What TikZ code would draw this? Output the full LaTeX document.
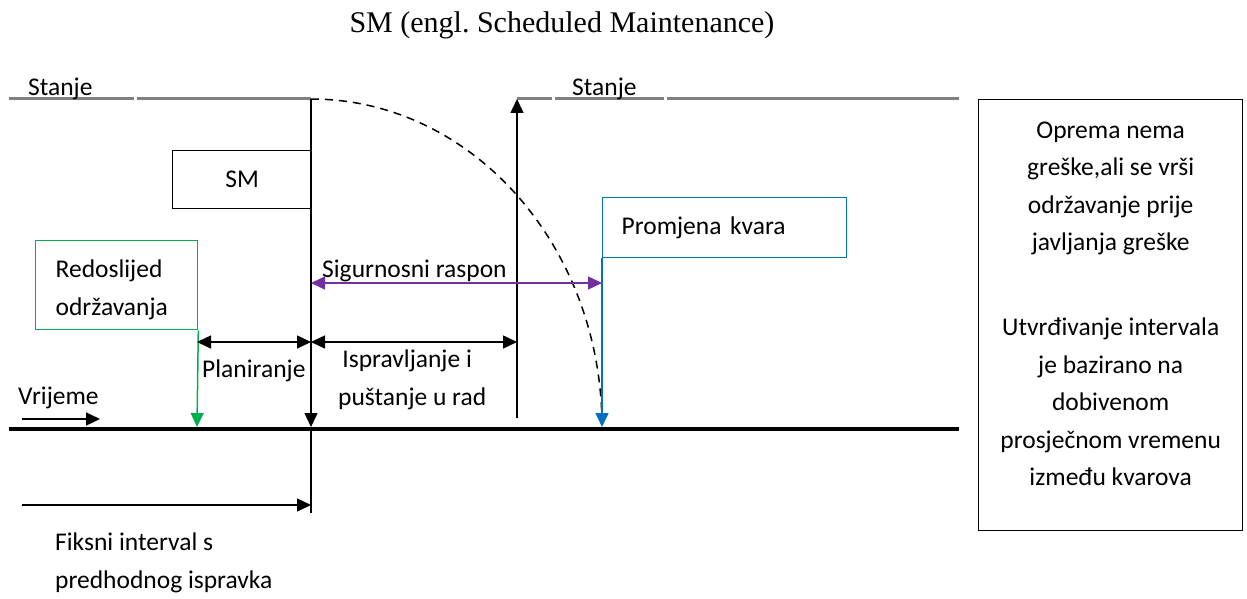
\documentclass[tikz,border=0pt]{standalone}
\usepackage{fontspec}
\setmainfont{Carlito}
\newfontfamily\titlefont{Liberation Serif}
\usetikzlibrary{arrows.meta,positioning}
\definecolor{kvarBlue}{RGB}{0,112,192}
\definecolor{orderGreen}{RGB}{0,176,80}
\definecolor{spanPurple}{RGB}{112,48,160}
\definecolor{stanjeGray}{RGB}{128,128,128}
\tikzstyle{txt} = [anchor=base west, inner sep=0pt, font=\fontsize{25.5}{38}\selectfont]
\tikzstyle{block} = [draw, rectangle, anchor=north west, line width=1.3pt, inner sep=0pt, font=\fontsize{25.5}{38}\selectfont]
\tikzstyle{thinLine} = [line width=1.5pt]
\tikzstyle{flowArrow} = [line width=1.5pt, -{Triangle[length=14pt,width=13pt]}]
\tikzstyle{spanArrow} = [line width=1.5pt, {Triangle[length=14pt,width=13pt]}-{Triangle[length=14pt,width=13pt]}]
\tikzstyle{stanjeLine} = [stanjeGray, line width=3pt]
\frenchspacing

\begin{document}
\begin{tikzpicture}[x=1pt, y=-1pt]
		\useasboundingbox (0,0) rectangle (1247,599);
		%title
		\node[anchor=base, inner sep=0pt, font=\titlefont\fontsize{30}{36}\selectfont](title) at (562,33){SM (engl. Scheduled Maintenance)};

		%points
		\coordinate (smTop) at (311,99);
		\coordinate (smAxis) at (311,427);
		\coordinate (smBottom) at (311,513);
		\coordinate (repTop) at (517,99);
		\coordinate (repBottom) at (517,418);
		\coordinate (greenTip) at (197,427);
		\coordinate (blueTip) at (602,427);
		\coordinate (axisL) at (9,429);
		\coordinate (axisR) at (959,429);
		\coordinate (planL) at (197,342);
		\coordinate (planR) at (311,342);
		\coordinate (ispR) at (517,342);
		\coordinate (spanL) at (311,283);
		\coordinate (spanR) at (602,283);
		\coordinate (timeL) at (22,419);
		\coordinate (timeR) at (100,419);
		\coordinate (fixL) at (22,505);
		\coordinate (fixR) at (311,505);

		%stanje lines
		\draw[stanjeLine] (9,99) -- (134,99);
		\draw[stanjeLine] (137,99) -- (smTop);
		\draw[stanjeLine] (repTop) -- (552,99);
		\draw[stanjeLine] (555,99) -- (664,99);
		\draw[stanjeLine] (667,99) -- (959,99);
		\node[txt](stanjeL) at (28,96){Stanje};
		\node[txt](stanjeR) at (572,96){Stanje};

		%blocks
		\node[block, minimum width=139pt, minimum height=58pt](sm) at (172,150){SM};
		\node[block, draw=orderGreen, minimum width=162pt, minimum height=89pt, text width=122pt, inner xsep=20pt, text depth=33pt, align=left](order) at (35,240){Redoslijed\\održavanja};
		\node[block, draw=kvarBlue, minimum width=244pt, minimum height=60pt, text width=206pt, inner xsep=19pt, align=left](kvar) at (602,197){Promjena kvara};
		\node[block, minimum width=264pt, minimum height=431pt, text depth=23pt, align=center, font=\fontsize{25.5}{37.5}\selectfont](note) at (978,99){Oprema nema\\greške,ali se vrši\\održavanje prije\\javljanja greške\\[47.5pt]Utvrđivanje intervala\\je bazirano na\\dobivenom\\prosječnom vremenu\\između kvarova};

		%curve
		\draw[thinLine, dash pattern=on 8pt off 6pt] (smTop) arc[start angle=-90, end angle=0, x radius=291, y radius=328];

		%axis
		\draw[line width=4pt] (axisL) -- (axisR);

		%arrows
		\draw[flowArrow](smTop)--(smAxis);
		\draw[thinLine](smAxis)--(smBottom);
		\draw[flowArrow](repBottom)--(repTop);
		\draw[flowArrow, orderGreen](order.south east)--(greenTip);
		\draw[flowArrow, kvarBlue](kvar.south west)--(blueTip);
		\draw[spanArrow, spanPurple](spanL)--(spanR);
		\draw[spanArrow](planL)--(planR);
		\draw[spanArrow](planR)--(ispR);
		\draw[flowArrow](timeL)--(timeR);
		\draw[flowArrow](fixL)--(fixR);

		%labels
		\node[txt](span) at (322,277){Sigurnosni raspon};
		\node[txt](plan) at (202,377){Planiranje};
		\node[txt, align=left](isp) at (338,405){\,Ispravljanje i\\puštanje u rad};
		\node[txt](time) at (18,404){Vrijeme};
		\node[txt, align=left](fix) at (55,588){Fiksni interval s\\predhodnog ispravka};
	\end{tikzpicture}
\end{document}
